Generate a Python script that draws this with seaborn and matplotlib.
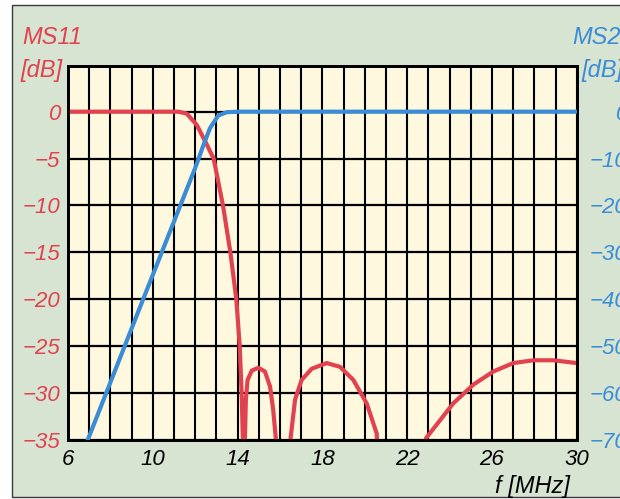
import matplotlib
matplotlib.use("Agg")
import matplotlib.pyplot as plt
import seaborn as sns
import pandas as pd
from matplotlib.patches import Rectangle
from matplotlib.ticker import MultipleLocator

# ---- data ----
freq_s11 = [6.0, 11.2, 11.6, 12.07, 12.48, 12.87, 13.31, 13.66, 13.94, 14.1, 14.19, 14.25, 14.28,
            14.31, 14.35, 14.39, 14.47, 14.67, 14.98, 15.29, 15.53, 15.68, 15.8, 15.84,
            16.45, 16.5, 16.71, 17.02, 17.5, 18.2, 18.83, 19.46, 20.09, 20.56, 20.7,
            22.8, 22.89, 23.55, 24.17, 25.12, 26.06, 27.0, 27.95, 28.89, 30.0]
db_s11 = [0.0, 0.0, -0.2, -1.4, -3.2, -5.0, -10.0, -15.0, -20.0, -25.0, -30.0, -35.0, -40.0,
          -40.0, -34.3, -30.7, -28.6, -27.6, -27.3, -27.7, -29.3, -31.8, -34.8, -40.0,
          -40.0, -34.8, -30.7, -28.6, -27.4, -26.8, -27.2, -28.6, -31.1, -34.3, -40.0,
          -40.0, -34.8, -32.9, -31.1, -29.1, -27.7, -26.8, -26.5, -26.5, -26.8]

freq_s21 = [6.93, 9.5, 12.0, 12.4, 12.7, 13.09, 13.5, 14.1, 30.0]
db_s21 = [-70.0, -40.5, -12.0, -7.0, -3.5, -0.8, -0.1, 0.0, 0.0]

x_ticks = [6, 10, 14, 18, 22, 26, 30]
left_ticks = [0, -5, -10, -15, -20, -25, -30, -35]
right_ticks = [0, -10, -20, -30, -40, -50, -60, -70]

# ---- style ----
RED = "#e2414f"
BLUE = "#3a8cd6"
BG = "#d7e4d2"
PLOT_BG = "#fdf8de"

sns.set_theme(style="white")
plt.rcParams['font.family'] = ['Liberation Sans Narrow', 'Liberation Sans', 'DejaVu Sans']
plt.rcParams['font.style'] = 'italic'

W, H = 620, 499
fig = plt.figure(figsize=(W / 100, H / 100), dpi=100, facecolor="white")
fig.add_artist(Rectangle((12 / W, 2 / H), 1.0, 492 / H, transform=fig.transFigure,
                         facecolor=BG, edgecolor="#3a3a3a", lw=1.0, zorder=-10))

left_px, right_px, top_px, bot_px = 68, 576.8, 66, 440
ax = fig.add_axes([left_px / W, 1 - bot_px / H, (right_px - left_px) / W, (bot_px - top_px) / H])
ax.set_facecolor(PLOT_BG)

df11 = pd.DataFrame({"f": freq_s11, "db": db_s11})
df21 = pd.DataFrame({"f": freq_s21, "db": db_s21})

sns.lineplot(data=df11, x="f", y="db", ax=ax, color=RED, lw=3.0, sort=False,
             solid_joinstyle="round", solid_capstyle="round", zorder=3)

ax.set_xlim(6, 30)
ax.set_ylim(-35, 4.87)
ax.set_xticks(x_ticks, labels=[str(v) for v in x_ticks])
ax.xaxis.set_minor_locator(MultipleLocator(1))
ax.set_yticks(left_ticks, labels=[str(v).replace("-", "\u2212") for v in left_ticks])
ax.grid(which="both", axis="x", color="black", lw=1.5)
ax.grid(which="major", axis="y", color="black", lw=1.6)
ax.set_axisbelow(True)
ax.tick_params(which="both", length=0)
ax.tick_params(axis="y", labelcolor=RED, labelsize=16, pad=5.8)
ax.tick_params(axis="x", labelcolor="black", labelsize=16, pad=6.5)
ax.set_xlabel("")
ax.set_ylabel("")
for s in ax.spines.values():
    s.set_color("black")
    s.set_linewidth(2.0)

ax2 = ax.twinx()
sns.lineplot(data=df21, x="f", y="db", ax=ax2, color=BLUE, lw=3.0, sort=False,
             solid_joinstyle="round", solid_capstyle="round", zorder=3)
ax2.set_ylim(-70, 9.74)
ax2.set_xlim(6, 30)
ax2.set_yticks(right_ticks, labels=[str(v).replace("-", "\u2212") for v in right_ticks])
ax2.tick_params(axis="y", length=0, labelcolor=BLUE, labelsize=16, pad=36.5)
for lbl in ax2.get_yticklabels():
    lbl.set_horizontalalignment("right")
ax2.set_ylabel("")
ax2.grid(False)
for s in ax2.spines.values():
    s.set_color("black")
    s.set_linewidth(2.0)

# ---- titles / units ----
fig.text(22 / W, 1 - 37 / H, "MS11", color=RED, fontsize=17, ha="left", va="center")
fig.text(20 / W, 1 - 70 / H, "[dB]", color=RED, fontsize=17, ha="left", va="center")
fig.text(572 / W, 1 - 37 / H, "MS21", color=BLUE, fontsize=17, ha="left", va="center")
fig.text(581 / W, 1 - 70 / H, "[dB]", color=BLUE, fontsize=17, ha="left", va="center")
fig.text(570 / W, 1 - 486 / H, "f [MHz]", color="black", fontsize=17, ha="right", va="center")

fig.savefig("out.png", dpi=100, facecolor=fig.get_facecolor())
